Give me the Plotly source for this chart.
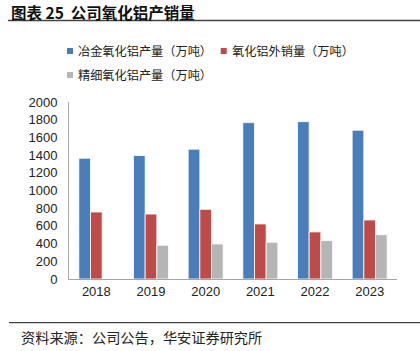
import plotly.graph_objects as go

years = ["2018", "2019", "2020", "2021", "2022", "2023"]
metallurgical_output = [1365, 1395, 1467, 1767, 1778, 1681]
alumina_external_sales = [757, 734, 787, 622, 532, 667]
fine_alumina_output = [None, 381, 396, 415, 434, 501]
series_names = ["冶金氧化铝产量（万吨）", "氧化铝外销量（万吨）", "精细氧化铝产量（万吨）"]
series_colors = ["#4A7EBB", "#BE4B48", "#B5B5B5"]
y_ticks = list(range(0, 2001, 200))

W, H = 420, 351
L, R, T, B = 69, 23, 102, 72
pw, ph = W - L - R, H - T - B

def px_x(px):
    return (px - L) / pw

def px_y(py):
    return (H - B - py) / ph

cjk = "Noto Sans CJK SC"
latin = "Liberation Sans, Arial"

fig = go.Figure()
for name, vals, col in zip(series_names,
                           [metallurgical_output, alumina_external_sales, fine_alumina_output],
                           series_colors):
    fig.add_trace(go.Bar(x=years, y=vals, name=name,
                         marker=dict(color=col, line=dict(color="white", width=0.8)),
                         showlegend=False))

fig.update_layout(
    width=W, height=H,
    margin=dict(l=L, r=R, t=T, b=B),
    paper_bgcolor="white", plot_bgcolor="white",
    barmode="group", bargap=0.36, bargroupgap=0,
    font=dict(family=latin, size=13, color="#222"),
    showlegend=False,
)
fig.update_xaxes(showline=True, linecolor="#A6A6A6", linewidth=1, ticks="", showgrid=False,
                 tickfont=dict(family=latin, size=13, color="#222"), fixedrange=True)
fig.update_yaxes(range=[0, 2000], tickvals=y_ticks, showline=True, linecolor="#A6A6A6", linewidth=1,
                 ticks="", showgrid=False, zeroline=False, ticklabelstandoff=8,
                 tickfont=dict(family=latin, size=13, color="#222"), fixedrange=True)

# legend (drawn as keys + text)
legend_pos = [(67, 51), (220.7, 51), (67, 75)]
for name, col, (lx, ly) in zip(series_names, series_colors, legend_pos):
    fig.add_shape(type="rect", xref="paper", yref="paper",
                  x0=px_x(lx), x1=px_x(lx + 6), y0=px_y(ly - 3), y1=px_y(ly + 3),
                  fillcolor=col, line=dict(width=0))
    fig.add_annotation(text=name, xref="paper", yref="paper", x=px_x(lx + 9), y=px_y(ly),
                       xanchor="left", yanchor="middle", showarrow=False,
                       font=dict(family=cjk, size=12.2, color="#222"))

# title
fig.add_annotation(text="<b>图表 25  公司氧化铝产销量</b>", xref="paper", yref="paper",
                   x=px_x(10), y=px_y(0), xanchor="left", yanchor="top", showarrow=False,
                   borderpad=0, font=dict(family=cjk, size=15.5, color="#111"))
fig.add_shape(type="line", xref="paper", yref="paper", x0=px_x(8), x1=px_x(420), y0=px_y(20.5), y1=px_y(20.5),
              line=dict(color="#444", width=1.5))
# footer
fig.add_shape(type="line", xref="paper", yref="paper", x0=px_x(9), x1=px_x(420), y0=px_y(322.7), y1=px_y(322.7),
              line=dict(color="#444", width=1.2))
fig.add_annotation(text="资料来源：公司公告，华安证券研究所", xref="paper", yref="paper",
                   x=px_x(19), y=px_y(337), xanchor="left", yanchor="middle", showarrow=False,
                   font=dict(family=cjk, size=14.2, color="#222"))

fig.write_html("out.html", config=dict(displayModeBar=False))
